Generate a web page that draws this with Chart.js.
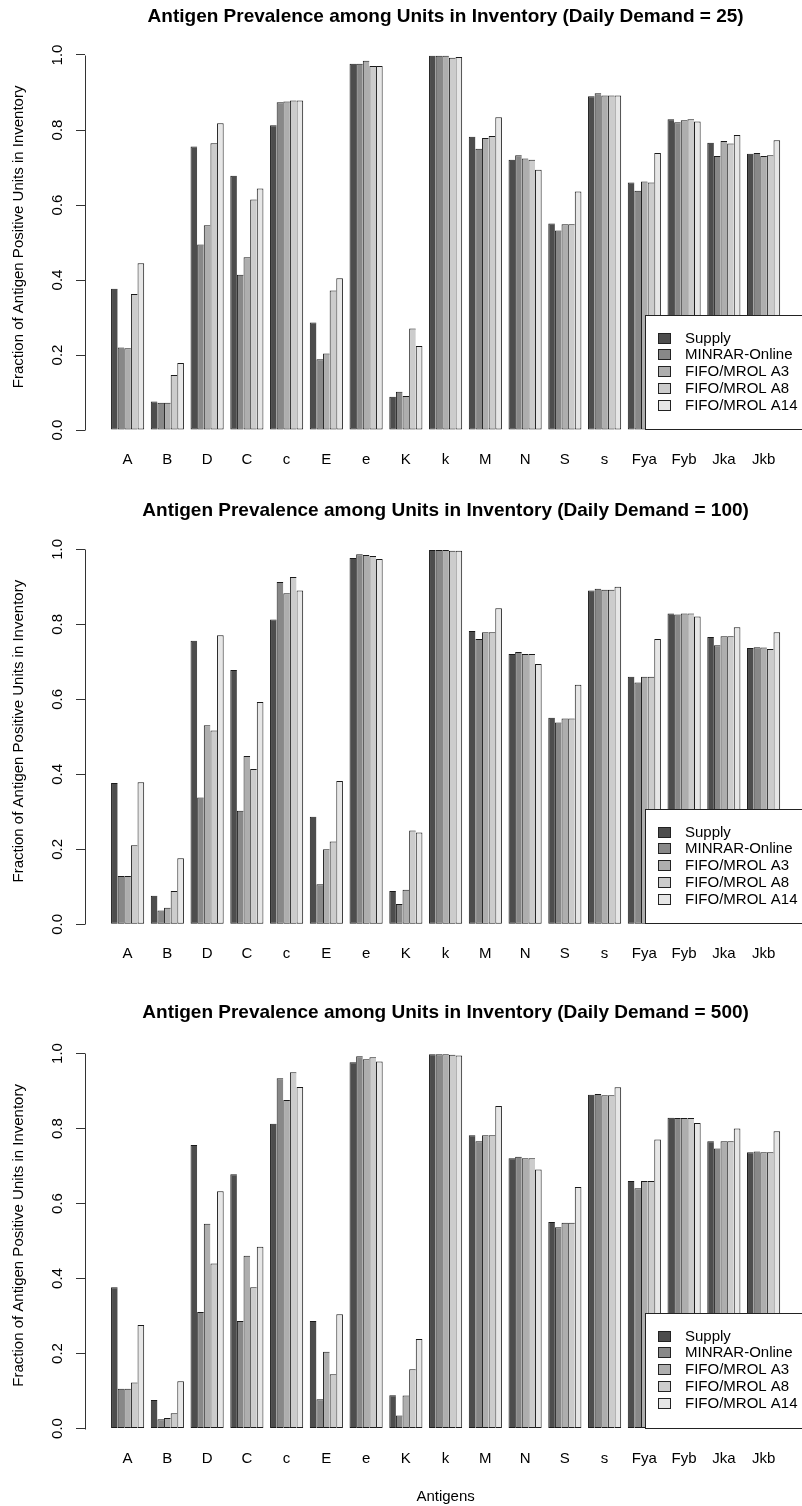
<!DOCTYPE html>
<html><head><meta charset="utf-8">
<script src="https://cdn.jsdelivr.net/npm/chart.js@4/dist/chart.umd.min.js"></script>
<style>
html,body{margin:0;padding:0;background:#fff;overflow:hidden;width:802px;height:1506px;}
canvas{position:absolute;left:0;}
</style></head><body>
<canvas id="c1" width="820" height="494" style="top:0px"></canvas>
<canvas id="c2" width="820" height="502" style="top:494px"></canvas>
<canvas id="c3" width="820" height="510" style="top:996px"></canvas>
<script>
const categories = ['A','B','D','C','c','E','e','K','k','M','N','S','s','Fya','Fyb','Jka','Jkb'];
const seriesNames = ['Supply','MINRAR-Online','FIFO/MROL A3','FIFO/MROL A8','FIFO/MROL A14'];
const seriesColors = ['#4D4D4D','#888888','#AEAEAE','#CCCCCC','#E6E6E6'];
const yTicks = [0, 0.2, 0.4, 0.6, 0.8, 1.0];
const demands = [25, 100, 500];

const supply   = [0.377,0.076,0.756,0.678,0.813,0.287,0.977,0.089,0.998,0.782,0.721,0.551,0.890,0.660,0.829,0.766,0.737];

const minrar25 = [0.220,0.073,0.495,0.414,0.874,0.189,0.977,0.102,0.998,0.750,0.733,0.532,0.898,0.638,0.821,0.731,0.739];
const a3_25    = [0.218,0.073,0.546,0.461,0.876,0.204,0.985,0.091,0.998,0.779,0.724,0.549,0.892,0.663,0.826,0.771,0.731];
const a8_25    = [0.363,0.147,0.765,0.615,0.879,0.372,0.971,0.271,0.993,0.784,0.721,0.549,0.892,0.660,0.829,0.764,0.733];
const a14_25   = [0.445,0.179,0.818,0.644,0.879,0.405,0.971,0.224,0.995,0.834,0.694,0.636,0.892,0.739,0.823,0.787,0.773];

const minrar100 = [0.129,0.037,0.338,0.303,0.913,0.107,0.987,0.054,0.998,0.761,0.726,0.538,0.895,0.645,0.826,0.744,0.739];
const a3_100    = [0.129,0.044,0.531,0.449,0.883,0.200,0.985,0.092,0.998,0.779,0.721,0.549,0.892,0.660,0.829,0.768,0.738];
const a8_100    = [0.211,0.089,0.517,0.414,0.926,0.221,0.982,0.250,0.996,0.779,0.721,0.549,0.892,0.660,0.829,0.768,0.734];
const a14_100   = [0.379,0.176,0.771,0.593,0.890,0.382,0.974,0.245,0.996,0.843,0.694,0.639,0.900,0.761,0.821,0.792,0.779];

const minrar500 = [0.106,0.025,0.311,0.287,0.934,0.078,0.993,0.035,0.998,0.766,0.725,0.537,0.892,0.641,0.828,0.747,0.739];
const a3_500    = [0.106,0.028,0.546,0.461,0.876,0.205,0.985,0.088,0.998,0.782,0.721,0.549,0.889,0.660,0.828,0.766,0.737];
const a8_500    = [0.123,0.041,0.440,0.377,0.950,0.145,0.990,0.158,0.997,0.782,0.721,0.549,0.889,0.660,0.828,0.766,0.737];
const a14_500   = [0.276,0.126,0.633,0.485,0.911,0.305,0.979,0.239,0.995,0.860,0.691,0.644,0.910,0.771,0.815,0.800,0.793];

const panelSeries = [
  [supply, minrar25, a3_25, a8_25, a14_25],
  [supply, minrar100, a3_100, a8_100, a14_100],
  [supply, minrar500, a3_500, a8_500, a14_500]
];

const FONT = "'Liberation Sans', Arial, sans-serif";

const yAxisLine = {
  id: 'yAxisLine',
  afterDraw(chart) {
    const s = chart.scales.y, ctx = chart.ctx;
    const x = Math.round(s.right - 0.5) + 0.5;
    ctx.save();
    ctx.strokeStyle = '#333';
    ctx.lineWidth = 1;
    ctx.beginPath();
    ctx.moveTo(x, Math.round(s.getPixelForValue(0)) + 0.5);
    ctx.lineTo(x, Math.round(s.getPixelForValue(1)) + 0.5);
    ctx.stroke();
    ctx.restore();
  }
};

const boxLegend = {
  id: 'boxLegend',
  afterDatasetsDraw(chart) {
    const {ctx, chartArea} = chart;
    const w = 161.5, h = 115.3;
    const x0 = Math.round(chartArea.right - w), y0 = Math.round(chartArea.bottom - h);
    const yb = Math.round(chartArea.bottom);
    ctx.save();
    ctx.fillStyle = '#fff';
    ctx.fillRect(x0, y0, chartArea.right - x0 + 20, yb - y0);
    ctx.strokeStyle = '#222';
    ctx.lineWidth = 1;
    ctx.strokeRect(x0 + 0.5, y0 + 0.5, chartArea.right - x0 + 20, yb - y0 - 1);
    ctx.font = '15px ' + FONT;
    ctx.textBaseline = 'middle';
    ctx.textAlign = 'left';
    chart.data.datasets.forEach((ds, i) => {
      const cy = Math.round(y0 + 22.5 + i * 16.75);
      ctx.fillStyle = ds.backgroundColor;
      ctx.fillRect(x0 + 13, cy - 5, 13, 11);
      ctx.strokeStyle = '#222';
      ctx.strokeRect(x0 + 13.5, cy - 4.5, 12, 10);
      ctx.fillStyle = '#000';
      ctx.fillText(ds.label, x0 + 40, cy + 0.5);
    });
    ctx.restore();
  }
};

function makePanel(id, p, zeroLocal, showXTitle) {
  const canvas = document.getElementById(id);
  const H = canvas.height;
  const yMax = 1.03;
  const topLocal = zeroLocal - yMax * 375;
  const titleTop = 5.8;
  const titleBottom = topLocal - titleTop - 22.8;
  const datasets = panelSeries[p].map((arr, k) => ({
    label: seriesNames[k],
    data: arr.map((v, i) => ({x: i, y: v})),
    backgroundColor: seriesColors[k],
    borderColor: '#1a1a1a',
    borderWidth: k === 4 ? {left:1, right:1, top:1, bottom:1} : {left:1, right:0, top:1, bottom:1},
    borderSkipped: false,
    barPercentage: 1.0,
    categoryPercentage: 5/6
  }));
  return new Chart(canvas, {
    type: 'bar',
    data: { datasets },
    plugins: [yAxisLine, boxLegend],
    options: {
      responsive: false,
      animation: false,
      devicePixelRatio: 1,
      layout: { padding: { left: 0, right: 13.8, top: 0, bottom: 0 } },
      plugins: {
        legend: { display: false },
        tooltip: { enabled: false },
        title: {
          display: true,
          fullSize: false,
          text: 'Antigen Prevalence among Units in Inventory (Daily Demand = ' + demands[p] + ')',
          color: '#000',
          font: { family: FONT, size: 19, weight: 'bold', lineHeight: 1.2 },
          padding: { top: titleTop, bottom: titleBottom }
        }
      },
      scales: {
        x: {
          type: 'linear',
          min: -1.072,
          max: 17.072,
          offset: false,
          grid: { display: false, drawTicks: false },
          border: { display: false },
          afterBuildTicks(scale) { scale.ticks = categories.map((c, i) => ({value: i})); },
          afterFit(scale) { scale.height = H - zeroLocal; },
          ticks: {
            autoSkip: false, maxRotation: 0, minRotation: 0,
            padding: 21,
            color: '#000',
            font: { family: FONT, size: 15 },
            callback: (v) => categories[v] !== undefined ? categories[v] : ''
          },
          title: {
            display: showXTitle,
            text: 'Antigens',
            color: '#000',
            font: { family: FONT, size: 15 },
            padding: { top: 0, bottom: 0 }
          }
        },
        y: {
          min: 0,
          max: yMax,
          grid: { display: true, drawOnChartArea: false, drawTicks: true, tickLength: 9, color: '#333', lineWidth: 1 },
          border: { display: false },
          afterBuildTicks(scale) { scale.ticks = yTicks.map(v => ({value: v})); },
          afterFit(scale) { scale.width = 85; },
          ticks: {
            minRotation: 90, maxRotation: 90,
            crossAlign: 'center',
            padding: 8,
            color: '#000',
            font: { family: FONT, size: 15 },
            callback: (v) => Number(v).toFixed(1)
          },
          title: {
            display: true,
            text: 'Fraction of Antigen Positive Units in Inventory',
            color: '#000',
            font: { family: FONT, size: 15 },
            padding: { top: 10, bottom: 0 }
          }
        }
      }
    }
  });
}

makePanel('c1', 0, 430, false);
makePanel('c2', 1, 430.3, false);
makePanel('c3', 2, 432.5, true);
</script>
</body></html>
